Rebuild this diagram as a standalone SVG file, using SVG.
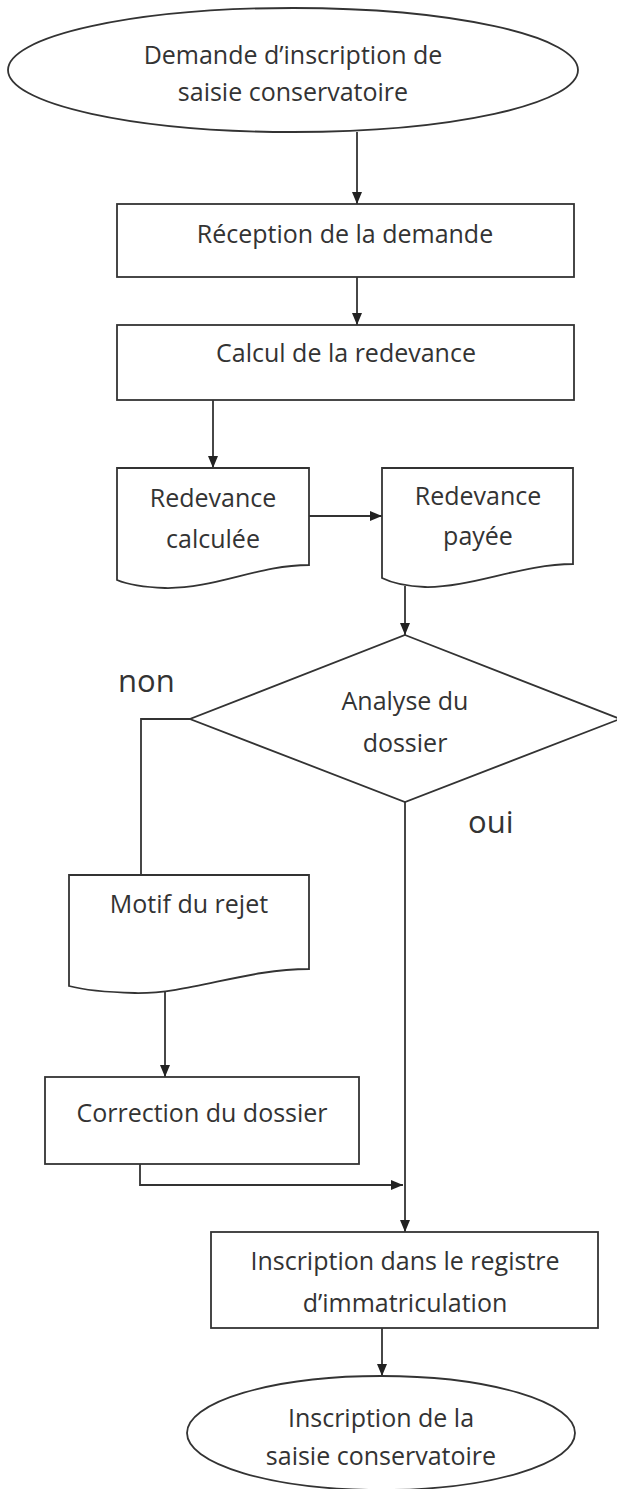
<svg xmlns="http://www.w3.org/2000/svg" width="617" height="1489" viewBox="0 0 617 1489">
<style>
.s{fill:#fff;stroke:#333;stroke-width:1.8}
.t{font-family:"Open Sans","Liberation Sans",sans-serif;font-size:25px;fill:#333;text-anchor:middle}
.l{font-family:"Open Sans","Liberation Sans",sans-serif;font-size:31px;fill:#333}
.c{fill:none;stroke:#333;stroke-width:1.8}
</style>
<defs>
<marker id="ah" viewBox="0 0 12 10" refX="12" refY="5" markerWidth="12" markerHeight="10" markerUnits="userSpaceOnUse" orient="auto">
<path d="M0,0 L12,5 L0,10 Z" fill="#222"/>
</marker>
</defs>
<rect width="617" height="1489" fill="#fff"/>
<g id="connectors">
<line class="c" x1="357" y1="132" x2="357" y2="204" marker-end="url(#ah)"/>
<line class="c" x1="357" y1="277" x2="357" y2="325" marker-end="url(#ah)"/>
<line class="c" x1="213" y1="400" x2="213" y2="468" marker-end="url(#ah)"/>
<line class="c" x1="309" y1="516" x2="382" y2="516" marker-end="url(#ah)"/>
<line class="c" x1="405" y1="586" x2="405" y2="635" marker-end="url(#ah)"/>
<polyline class="c" points="190,719 141,719 141,875"/>
<line class="c" x1="405" y1="802" x2="405" y2="1232" marker-end="url(#ah)"/>
<line class="c" x1="165" y1="992" x2="165" y2="1077" marker-end="url(#ah)"/>
<polyline class="c" points="140,1164 140,1185 403,1185" marker-end="url(#ah)"/>
<line class="c" x1="382" y1="1328" x2="382" y2="1376" marker-end="url(#ah)"/>
</g>
<g id="start">
<ellipse class="s" cx="293" cy="70" rx="285" ry="62"/>
<text class="t" x="293" y="64">Demande d’inscription de</text>
<text class="t" x="293" y="101">saisie conservatoire</text>
</g>
<g id="reception">
<rect class="s" x="117" y="204" width="457" height="73"/>
<text class="t" x="345" y="243">Réception de la demande</text>
</g>
<g id="calcul">
<rect class="s" x="117" y="325" width="457" height="75"/>
<text class="t" x="346" y="362">Calcul de la redevance</text>
</g>
<g id="calculee">
<path class="s" d="M117,468 H309 V565 C258,565 215,589 165,588 C138,587 124,583 117,580 Z"/>
<text class="t" x="213" y="507">Redevance</text>
<text class="t" x="213" y="548">calculée</text>
</g>
<g id="payee">
<path class="s" d="M382,468 H573 V564 C522,564 470,588 425,587 C400,586 388,581 382,578 Z"/>
<text class="t" x="478" y="505">Redevance</text>
<text class="t" x="478" y="545">payée</text>
</g>
<g id="analyse">
<polygon class="s" points="405,635 620,719 405,802 190,719"/>
<text class="t" x="405" y="710">Analyse du</text>
<text class="t" x="405" y="752">dossier</text>
</g>
<g id="labels">
<text class="l" x="118" y="692">non</text>
<text class="l" x="468" y="833">oui</text>
</g>
<g id="motif">
<path class="s" d="M69,875 H309 V969 C245,969 190,994 135,993 C100,992 80,989 69,986 Z"/>
<text class="t" x="189" y="913">Motif du rejet</text>
</g>
<g id="correction">
<rect class="s" x="45" y="1077" width="314" height="87"/>
<text class="t" x="202" y="1122">Correction du dossier</text>
</g>
<g id="inscription">
<rect class="s" x="211" y="1232" width="387" height="96"/>
<text class="t" x="405" y="1270">Inscription dans le registre</text>
<text class="t" x="405" y="1312">d’immatriculation</text>
</g>
<g id="end">
<ellipse class="s" cx="381" cy="1433" rx="194" ry="57"/>
<text class="t" x="381" y="1427">Inscription de la</text>
<text class="t" x="381" y="1465">saisie conservatoire</text>
</g>
</svg>
